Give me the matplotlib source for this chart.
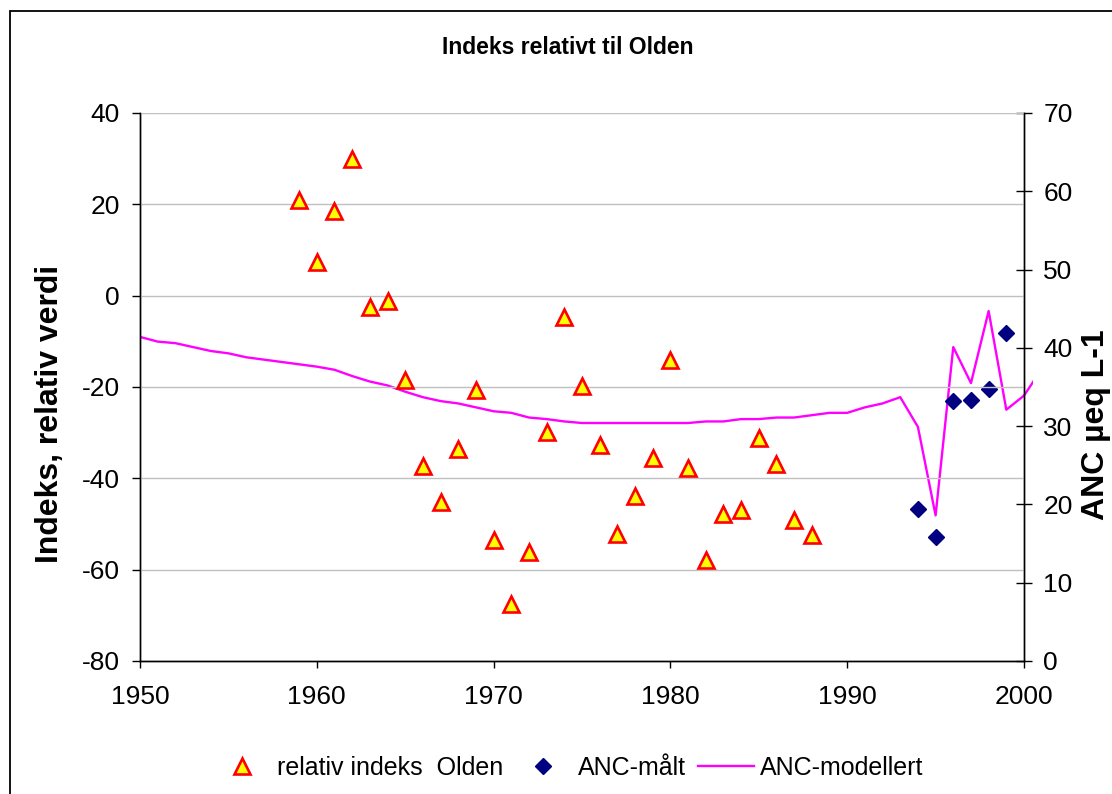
import numpy as np
import matplotlib
matplotlib.use("Agg")
import matplotlib.pyplot as plt
from matplotlib.lines import Line2D
from matplotlib.patches import Rectangle
from matplotlib.transforms import Bbox, TransformedBbox

plt.rcParams['font.family'] = ['Liberation Sans', 'DejaVu Sans']
plt.rcParams['axes.unicode_minus'] = False

# relativ indeks Olden (venstre akse)
ar_indeks = [1959, 1960, 1961, 1962, 1963, 1964, 1965, 1966, 1967, 1968, 1969,
             1970, 1971, 1972, 1973, 1974, 1975, 1976, 1977, 1978, 1979, 1980,
             1981, 1982, 1983, 1984, 1985, 1986, 1987, 1988]
indeks = [21.0, 7.4, 18.5, 29.9, -2.5, -1.2, -18.4, -37.3, -45.2, -33.6, -20.7,
          -53.5, -67.5, -56.2, -29.9, -4.7, -19.8, -32.8, -52.2, -43.8, -35.5, -14.1,
          -37.7, -57.9, -47.8, -46.9, -31.1, -36.9, -49.1, -52.5]

# ANC maalt (hoeyre akse)
ar_maalt = [1994, 1995, 1996, 1997, 1998, 1999]
anc_maalt = [19.4, 15.8, 33.2, 33.4, 34.7, 41.9]

# ANC modellert (hoeyre akse)
ar_modell = list(range(1950, 2002))
anc_modell = [41.4, 40.8, 40.6, 40.1, 39.6, 39.3, 38.8, 38.5, 38.2, 37.9,
              37.6, 37.2, 36.4, 35.7, 35.2, 34.4, 33.7, 33.2, 32.9, 32.4,
              31.9, 31.7, 31.1, 30.9, 30.6, 30.4, 30.4, 30.4, 30.4, 30.4,
              30.4, 30.4, 30.6, 30.6, 30.9, 30.9, 31.1, 31.1, 31.4, 31.7,
              31.7, 32.4, 32.9, 33.7, 29.9, 18.6, 40.1, 35.5, 44.7, 32.1,
              33.9, 37.3]

W, H = 1112, 794
fig = plt.figure(figsize=(W / 100, H / 100), dpi=100)
ax = fig.add_axes([140 / W, 1 - 661 / H, (1024 - 140) / W, (661 - 113) / H])
ax2 = ax.twinx()

# ytre ramme
fig.patches.append(Rectangle((10 / W, -0.1), 1.2, 1.1 - 11 / H, transform=fig.transFigure,
                             fill=False, edgecolor='black', linewidth=1.3))

ax.set_xlim(1950, 2000)
ax.set_ylim(-80, 40)
ax.set_yticks(np.arange(-80, 41, 20))
ax.set_xticks(np.arange(1950, 2001, 10))
ax.grid(axis='y', color='#c0c0c0', linewidth=1)
ax.set_axisbelow(True)
ax.tick_params(axis='y', direction='out', length=5.5, width=1, pad=9, labelsize=19)
ax.tick_params(axis='x', direction='out', length=5.3, width=1, pad=12, labelsize=19)

ax2.set_ylim(0, 70)
ax2.set_yticks(np.arange(0, 71, 10))
ax2.tick_params(axis='y', direction='inout', length=12, width=1, pad=8, labelsize=19)

for a in (ax, ax2):
    a.spines['top'].set_visible(False)
    for s in ('left', 'right', 'bottom'):
        a.spines[s].set_color('black')
        a.spines[s].set_linewidth(1)

ln, = ax2.plot(ar_modell, anc_modell, color='#ff00ff', linewidth=1.7, zorder=2)
ln.set_clip_box(TransformedBbox(Bbox([[0, 0], [1.01, 1]]), ax2.transAxes))
ax2.plot(ar_maalt, anc_maalt, linestyle='none', marker='D', markersize=8,
         color='#000080', zorder=3)
ax.plot(ar_indeks, indeks, linestyle='none', marker='^', markersize=11,
        markerfacecolor='#ffff00', markeredgecolor='#ff0000', markeredgewidth=1.9,
        zorder=4)
ax.set_zorder(ax2.get_zorder() + 1)
ax.patch.set_visible(False)

fig.text(568 / W, 1 - 48 / H, 'Indeks relativt til Olden', ha='center', va='center',
         fontsize=16.5, fontweight='bold')
fig.text(50 / W, 1 - 414 / H, 'Indeks, relativ verdi', ha='center', va='center',
         rotation=90, fontsize=23, fontweight='bold')
fig.text(1096 / W, 1 - 425 / H, 'ANC µeq L-1', ha='center', va='center',
         rotation=90, fontsize=23, fontweight='bold')

handles = [
    Line2D([], [], linestyle='none', marker='^', markersize=11,
           markerfacecolor='#ffff00', markeredgecolor='#ff0000', markeredgewidth=1.9),
    Line2D([], [], linestyle='none', marker='D', markersize=8, color='#000080'),
    Line2D([], [], color='#ff00ff', linewidth=1.7),
]
labels = ['relativ indeks  Olden', 'ANC-målt', 'ANC-modellert']
fig.legend(handles, labels, loc='center', bbox_to_anchor=(569 / W, 1 - 768 / H),
           ncol=3, frameon=False, fontsize=18, handlelength=2.24, handletextpad=0.25,
           columnspacing=0.5)

fig.savefig('out.png', dpi=100)
